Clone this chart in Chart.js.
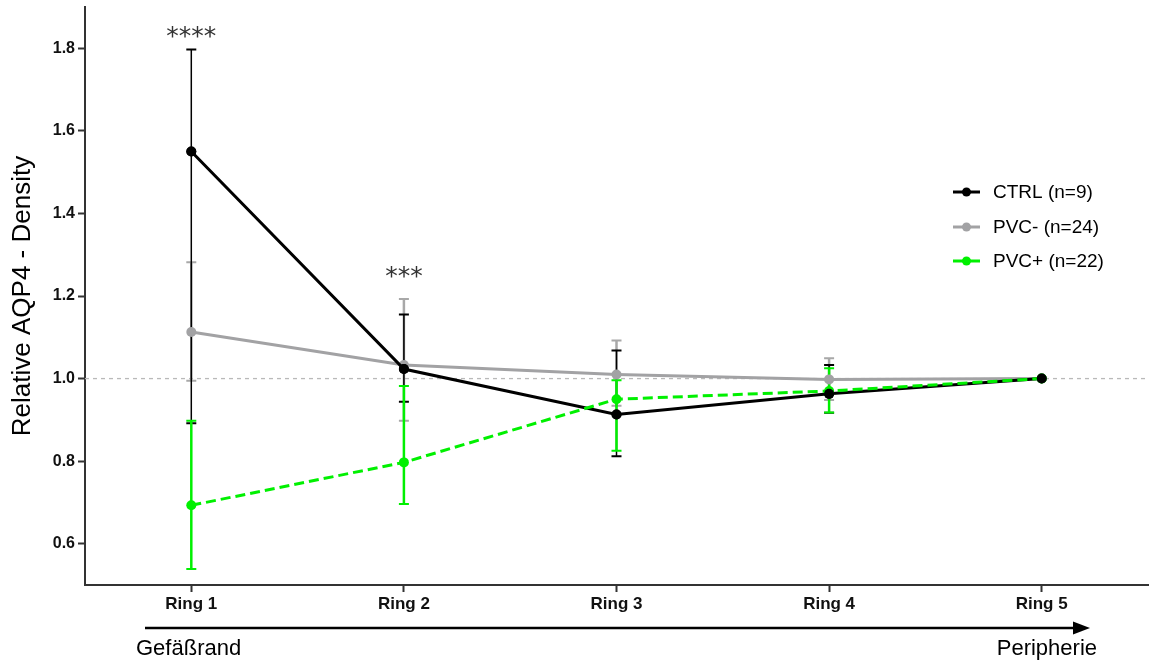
<!DOCTYPE html>
<html>
<head>
<meta charset="utf-8">
<script src="https://cdn.jsdelivr.net/npm/chart.js@4.4.1/dist/chart.umd.min.js"></script>
<style>
  html, body { margin: 0; padding: 0; background: #ffffff; }
  canvas { display: block; }
</style>
</head>
<body>
<canvas id="chart" width="1153" height="663"></canvas>
<script>
// Rings from the vessel edge (Ring 1) out to the periphery (Ring 5)
const categories = ['Ring 1', 'Ring 2', 'Ring 3', 'Ring 4', 'Ring 5'];

// Mean relative AQP4 density per ring
const ctrlMean      = [1.550, 1.023, 0.913, 0.963, 1.000];
const pvcMinusMean  = [1.113, 1.033, 1.010, 0.998, 1.000];
const pvcPlusMean   = [0.693, 0.797, 0.950, 0.970, 1.000];

// Error bar ends (upper / lower) per ring
const ctrlUpper     = [1.797, 1.155, 1.068, 1.033, null];
const ctrlLower     = [0.892, 0.944, 0.812, 0.917, null];
const pvcMinusUpper = [1.282, 1.193, 1.092, 1.049, null];
const pvcMinusLower = [0.995, 0.898, 0.934, 0.948, null];
const pvcPlusUpper  = [0.898, 0.982, 0.996, 1.025, null];
const pvcPlusLower  = [0.539, 0.696, 0.825, 0.918, null];

// Y axis tick values and the normalisation reference
const yTicks = [0.6, 0.8, 1.0, 1.2, 1.4, 1.6, 1.8];
const referenceValue = 1.0;

// Significance marks above rings (value = vertical placement in data units)
const significance = [
  { index: 0, text: '****', value: 1.84 },
  { index: 1, text: '***',  value: 1.258 }
];

const FONT = "'Liberation Sans', Arial, Helvetica, sans-serif";
const BLACK = '#000000';
const GRAY = '#a2a2a4';
const GREEN = '#00f000';

const seriesStyle = [
  { label: 'CTRL (n=9)',   color: BLACK, mean: ctrlMean,     upper: ctrlUpper,     lower: ctrlLower,     barWidth: 1.5 },
  { label: 'PVC- (n=24)',  color: GRAY,  mean: pvcMinusMean, upper: pvcMinusUpper, lower: pvcMinusLower, barWidth: 2.5 },
  { label: 'PVC+ (n=22)',  color: GREEN, mean: pvcPlusMean,  upper: pvcPlusUpper,  lower: pvcPlusLower,  barWidth: 2.5 }
];

// Reference line and error bars, drawn underneath the series
const errorBarPlugin = {
  id: 'errorBars',
  beforeDatasetsDraw(chart) {
    const { ctx, chartArea, scales: { x, y } } = chart;
    ctx.save();
    const yRef = y.getPixelForValue(referenceValue);
    ctx.strokeStyle = '#b9b9b9';
    ctx.lineWidth = 1.3;
    ctx.setLineDash([4, 4]);
    ctx.beginPath();
    ctx.moveTo(chartArea.left, yRef);
    ctx.lineTo(chartArea.right, yRef);
    ctx.stroke();
    ctx.setLineDash([]);

    // gray first, then black, then green on top
    [seriesStyle[1], seriesStyle[0], seriesStyle[2]].forEach(s => {
      s.upper.forEach((hi, i) => {
        const lo = s.lower[i];
        if (hi == null || lo == null) return;
        const px = x.getPixelForValue(i);
        const yh = y.getPixelForValue(hi);
        const yl = y.getPixelForValue(lo);
        ctx.strokeStyle = s.color === GRAY ? '#a8a8a8' : s.color;
        ctx.lineWidth = s.barWidth;
        ctx.beginPath();
        ctx.moveTo(px, yh);
        ctx.lineTo(px, yl);
        ctx.stroke();
        ctx.lineWidth = 2;
        ctx.beginPath();
        ctx.moveTo(px - 5, yh); ctx.lineTo(px + 5, yh);
        ctx.moveTo(px - 5, yl); ctx.lineTo(px + 5, yl);
        ctx.stroke();
      });
    });
    ctx.restore();
  }
};

// Legend, significance stars and the gradient arrow below the axis
const decorPlugin = {
  id: 'decor',
  afterDraw(chart) {
    const { ctx, scales: { x, y } } = chart;
    ctx.save();

    // significance stars
    ctx.fillStyle = '#333333';
    ctx.font = "25px 'DejaVu Sans', sans-serif";
    ctx.textAlign = 'center';
    ctx.textBaseline = 'alphabetic';
    significance.forEach(s => {
      ctx.fillText(s.text, x.getPixelForValue(s.index), y.getPixelForValue(s.value) + 12);
    });

    // legend
    const rows = [192, 227, 261];
    seriesStyle.forEach((s, i) => {
      const ly = rows[i];
      ctx.strokeStyle = s.color;
      ctx.lineWidth = 3;
      ctx.beginPath();
      ctx.moveTo(953, ly);
      ctx.lineTo(980, ly);
      ctx.stroke();
      ctx.fillStyle = s.color;
      ctx.beginPath();
      ctx.arc(966.5, ly, 4.5, 0, Math.PI * 2);
      ctx.fill();
      ctx.fillStyle = '#000000';
      ctx.font = '19px ' + FONT;
      ctx.textAlign = 'left';
      ctx.textBaseline = 'middle';
      ctx.fillText(s.label, 993, ly + 1);
    });

    // arrow from vessel edge to periphery
    const ay = 628;
    ctx.strokeStyle = '#000000';
    ctx.fillStyle = '#000000';
    ctx.lineWidth = 2.5;
    ctx.beginPath();
    ctx.moveTo(145, ay);
    ctx.lineTo(1076, ay);
    ctx.stroke();
    ctx.beginPath();
    ctx.moveTo(1090, ay);
    ctx.lineTo(1073, ay - 6.5);
    ctx.lineTo(1073, ay + 6.5);
    ctx.closePath();
    ctx.fill();

    ctx.font = '22px ' + FONT;
    ctx.textBaseline = 'alphabetic';
    ctx.textAlign = 'left';
    ctx.fillText('Gefäßrand', 136, 655);
    ctx.textAlign = 'right';
    ctx.fillText('Peripherie', 1097, 655);

    ctx.restore();
  }
};

const axisGrid = {
  display: true,
  drawOnChartArea: false,
  drawTicks: true,
  tickLength: 7,
  tickWidth: 2,
  tickColor: '#333333',
  color: '#333333'
};

new Chart(document.getElementById('chart'), {
  type: 'line',
  data: {
    labels: categories,
    datasets: [
      {
        label: seriesStyle[0].label,
        data: ctrlMean,
        borderColor: BLACK,
        backgroundColor: BLACK,
        borderWidth: 3,
        pointRadius: 5,
        pointBorderWidth: 0,
        tension: 0,
        order: 2
      },
      {
        label: seriesStyle[1].label,
        data: pvcMinusMean,
        borderColor: GRAY,
        backgroundColor: GRAY,
        borderWidth: 3,
        pointRadius: 5,
        pointBorderWidth: 0,
        tension: 0,
        order: 3
      },
      {
        label: seriesStyle[2].label,
        data: pvcPlusMean,
        borderColor: GREEN,
        backgroundColor: GREEN,
        borderWidth: 3,
        borderDash: [10, 5],
        pointRadius: 5,
        pointBorderWidth: 0,
        tension: 0,
        order: 1
      },
      {
        // CTRL markers kept above the dashed PVC+ line
        label: 'CTRL points',
        data: ctrlMean,
        showLine: false,
        borderColor: BLACK,
        backgroundColor: BLACK,
        pointRadius: 5,
        pointBorderWidth: 0,
        order: 0
      }
    ]
  },
  options: {
    responsive: false,
    animation: false,
    layout: { padding: { top: 7, right: 3, bottom: 0, left: 0 } },
    plugins: {
      legend: { display: false },
      tooltip: { enabled: false }
    },
    scales: {
      x: {
        type: 'category',
        offset: true,
        grid: Object.assign({}, axisGrid, { offset: false }),
        border: { display: true, color: '#333333', width: 2 },
        ticks: {
          font: { family: FONT, size: 17, weight: 'bold' },
          color: '#111111',
          padding: 2,
          maxRotation: 0
        },
        afterFit(scale) {
          scale.height = 78;
          scale.paddingLeft = 0;
          scale.paddingRight = 0;
        }
      },
      y: {
        min: 0.5,
        max: 1.9,
        grid: axisGrid,
        border: { display: true, color: '#333333', width: 2 },
        afterBuildTicks(scale) {
          scale.ticks = yTicks.map(v => ({ value: v }));
        },
        ticks: {
          font: { family: FONT, size: 16, weight: 'bold' },
          color: '#111111',
          padding: 3,
          callback: v => Number(v).toFixed(1)
        },
        title: {
          display: true,
          text: 'Relative AQP4 - Density',
          font: { family: FONT, size: 26 },
          color: '#000000',
          padding: { top: 7, bottom: 0 }
        },
        afterFit(scale) {
          scale.width = 85;
          scale.paddingTop = 0;
          scale.paddingBottom = 0;
        }
      }
    }
  },
  plugins: [errorBarPlugin, decorPlugin]
});
</script>
</body>
</html>
